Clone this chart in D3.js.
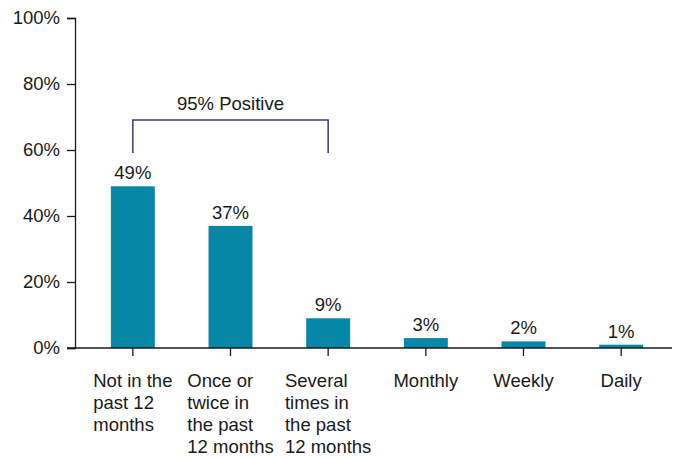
<!DOCTYPE html>
<html>
<head>
<meta charset="utf-8">
<script src="https://cdn.jsdelivr.net/npm/d3@7"></script>
<style>
  html, body { margin: 0; padding: 0; background: #fff; }
  svg text { font-family: "Liberation Sans", Arial, sans-serif; fill: #1a1a1a; }
</style>
</head>
<body>
<svg id="chart" width="675" height="459"></svg>
<script>
const categories = [
  ["Not in the", "past 12", "months"],
  ["Once or", "twice in", "the past", "12 months"],
  ["Several", "times in", "the past", "12 months"],
  ["Monthly"],
  ["Weekly"],
  ["Daily"]
];
const values = [49, 37, 9, 3, 2, 1];
const yTicks = [0, 20, 40, 60, 80, 100];
const bracketLabel = "95% Positive";
const bracketRange = [0, 2];

const svg = d3.select("#chart");
const fontSize = 18.5;
const x0 = 75, x1 = 672, yTop = 18, yBottom = 348;

const keys = categories.map((c, i) => String(i));
const x = d3.scaleBand().domain(keys).range([84, 670])
  .paddingInner(0.55).paddingOuter(0.275);
const y = d3.scaleLinear().domain([0, 100]).range([yBottom, yTop]);

// Y axis
const yAxis = svg.append("g").attr("transform", `translate(${x0},0)`)
  .call(d3.axisLeft(y).tickValues(yTicks).tickSize(8).tickPadding(7).tickFormat(d => d + "%"));
yAxis.select(".domain").attr("stroke", "#1a1a1a").attr("stroke-width", 1.3);
yAxis.selectAll(".tick line").attr("stroke", "#1a1a1a").attr("stroke-width", 1.3);
yAxis.selectAll(".tick text").attr("font-size", fontSize).style("fill", "#1a1a1a")
  .attr("font-family", "Liberation Sans, Arial, sans-serif");

// Bars
svg.append("g").selectAll("rect").data(values).join("rect")
  .attr("x", (d, i) => x(keys[i]))
  .attr("y", d => y(d))
  .attr("width", x.bandwidth())
  .attr("height", d => y(0) - y(d))
  .attr("fill", "#0787a7");

// Value labels
svg.append("g").selectAll("text").data(values).join("text")
  .attr("x", (d, i) => x(keys[i]) + x.bandwidth() / 2)
  .attr("y", d => y(d) - 7)
  .attr("text-anchor", "middle")
  .attr("font-size", fontSize)
  .text(d => d + "%");

// X axis
const xAxisG = svg.append("g").attr("transform", `translate(0,${yBottom})`);
xAxisG.append("line").attr("x1", 67).attr("x2", x1).attr("y1", 0).attr("y2", 0)
  .attr("stroke", "#1a1a1a").attr("stroke-width", 1.3);
keys.forEach((k, i) => {
  const cx = x(k) + x.bandwidth() / 2;
  xAxisG.append("line").attr("x1", cx).attr("x2", cx).attr("y1", 0).attr("y2", 8)
    .attr("stroke", "#1a1a1a").attr("stroke-width", 1.3);
  const lines = categories[i];
  const g = xAxisG.append("g");
  const texts = lines.map((ln, j) => g.append("text")
    .attr("y", 39 + j * 22)
    .attr("font-size", fontSize)
    .text(ln));
  if (lines.length === 1) {
    texts[0].attr("x", cx).attr("text-anchor", "middle");
  } else {
    const w = d3.max(texts, t => t.node().getComputedTextLength());
    texts.forEach(t => t.attr("x", cx - w / 2));
  }
});

// Bracket
const bx1 = x(keys[bracketRange[0]]) + x.bandwidth() / 2;
const bx2 = x(keys[bracketRange[1]]) + x.bandwidth() / 2;
svg.append("path")
  .attr("d", `M${bx1},153 V120 H${bx2} V153`)
  .attr("fill", "none").attr("stroke", "#3d3d7a").attr("stroke-width", 1.5);
svg.append("text")
  .attr("x", (bx1 + bx2) / 2).attr("y", 110)
  .attr("text-anchor", "middle").attr("font-size", fontSize)
  .text(bracketLabel);
</script>
</body>
</html>
